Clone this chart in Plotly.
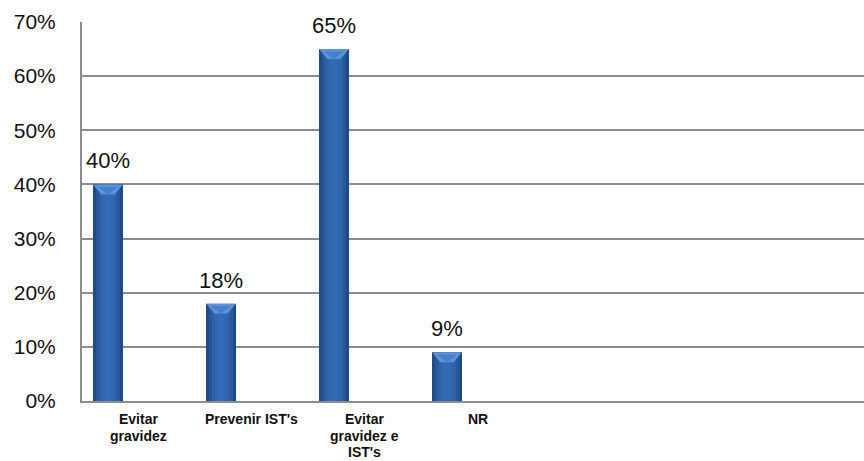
import plotly.graph_objects as go

# Survey answers and their shares
categories = ["Evitar gravidez", "Prevenir IST's", "Evitar gravidez e IST's", "NR"]
label_lines = [["Evitar", "gravidez"], ["Prevenir IST's"], ["Evitar", "gravidez e", "IST's"], ["NR"]]
values = [0.40, 0.18, 0.65, 0.09]
y_ticks = [0.0, 0.1, 0.2, 0.3, 0.4, 0.5, 0.6, 0.7]
y_ticktext = ["0%", "10%", "20%", "30%", "40%", "50%", "60%", "70%"]

positions = list(range(len(categories)))

# bar geometry within each category slot (x units = one slot)
BAR_LEFT = -0.403
BAR_WIDTH = 0.265
N_SLOTS_SHOWN = 6.92

# horizontal shading profile of the bar (darker edges, lighter core)
strip_colors = ["#214a86", "#28569a", "#2e61a7", "#3167af", "#336ab3",
                "#336ab3", "#3167af", "#2e61a6", "#295799", "#214a84"]
n_strips = len(strip_colors)
strip_w = BAR_WIDTH / n_strips

fig = go.Figure()
for k, col in enumerate(strip_colors):
    fig.add_trace(go.Bar(
        x=positions, y=values,
        offset=BAR_LEFT + k * strip_w, width=strip_w * 1.02,
        marker=dict(color=col, line=dict(width=0)),
        showlegend=False, hoverinfo="skip",
    ))

# bevelled top of each bar
px_per_unit = 379 / 0.70
bevel_h = 10 / px_per_unit
shapes = []
for p, v in zip(positions, values):
    x0 = p + BAR_LEFT
    x1 = x0 + BAR_WIDTH
    xm = x0 + BAR_WIDTH / 2
    inset = BAR_WIDTH * 0.28
    shapes.append(dict(
        type="path", xref="x", yref="y",
        path=f"M {x0},{v} L {x1},{v} L {x1 - inset},{v - bevel_h} L {x0 + inset},{v - bevel_h} Z",
        fillcolor="#5a93db", line=dict(width=0), layer="above"))
    shapes.append(dict(
        type="path", xref="x", yref="y",
        path=f"M {x0 + inset * 0.6},{v - bevel_h * 0.25} L {x1 - inset * 0.6},{v - bevel_h * 0.25} L {xm},{v - bevel_h} Z",
        fillcolor="#4780c8", line=dict(width=0), layer="above"))

annotations = []
# value labels above bars
for p, v in zip(positions, values):
    annotations.append(dict(
        x=p + BAR_LEFT + BAR_WIDTH / 2, y=v, xref="x", yref="y",
        text=f"{round(v * 100)}%", showarrow=False,
        yanchor="bottom", yshift=9,
        font=dict(family="Liberation Sans, Arial", size=22, color="#111111")))

# category labels, one line each with tight spacing
for p, lines in zip(positions, label_lines):
    for j, line in enumerate(lines):
        annotations.append(dict(
            x=p, y=0, xref="x", yref="paper",
            text=f"<b>{line}</b>", showarrow=False, borderpad=0,
            yanchor="top", yshift=-9 - 16.5 * j,
            font=dict(family="Liberation Sans, Arial", size=14, color="#111111")))

fig.update_layout(
    width=864, height=461,
    margin=dict(l=82, r=0, t=22, b=60),
    paper_bgcolor="white", plot_bgcolor="white",
    barmode="overlay", bargap=0,
    shapes=shapes, annotations=annotations,
    xaxis=dict(range=[-0.5, -0.5 + N_SLOTS_SHOWN], showticklabels=False,
               showgrid=False, zeroline=False, showline=True,
               linecolor="#8c8c8c", linewidth=2, ticks=""),
    yaxis=dict(range=[0, 0.70], tickvals=y_ticks, ticktext=y_ticktext,
               showgrid=True, gridcolor="#8c8c8c", gridwidth=2,
               zeroline=False, showline=True, linecolor="#8c8c8c", linewidth=2,
               ticks="", ticklabelstandoff=20,
               tickfont=dict(family="Liberation Sans, Arial", size=21, color="#111111")),
)

fig.write_html("out.html")
